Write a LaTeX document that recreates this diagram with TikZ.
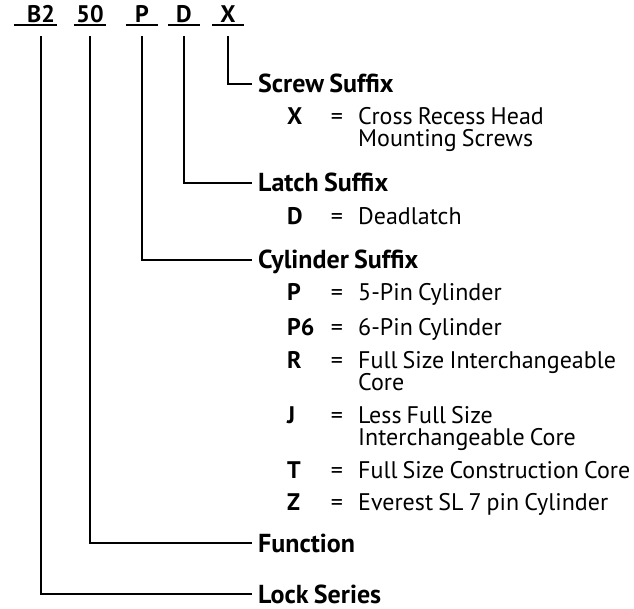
\documentclass[tikz,border=0pt]{standalone}
\usepackage{fontspec}
\setmainfont{PT Sans}[WordSpace=0.8]
\newcommand{\lblsize}{\fontsize{24}{22}\selectfont}
\newcommand{\headsize}{\fontsize{26}{24}\selectfont}

\tikzset{
  code/.style={font=\lblsize\bfseries,anchor=base,inner xsep=0pt,inner ysep=2pt,
    minimum width=31pt,text depth=0pt},
  head/.style={font=\headsize\bfseries,anchor=west,inner xsep=6pt,inner ysep=1pt,
    text height=18pt,text depth=0pt},
  key/.style={font=\lblsize\bfseries,anchor=base west,inner sep=0pt},
  eq/.style={font=\lblsize,anchor=base,inner sep=0pt},
  desc/.style={font=\lblsize,anchor=base west,inner sep=0pt},
  conn/.style={line width=1.6pt},
}

\begin{document}
\begin{tikzpicture}[x=1pt,y=-1pt]
  \useasboundingbox (0,0) rectangle (634,609);

  % Part number, one underlined group per field
  \node[code] (cB) at (41,23) {B2};
  \node[code] (cF) at (90,23) {50};
  \node[code] (cP) at (142,23) {P};
  \node[code] (cD) at (184,23) {D};
  \node[code] (cX) at (228,23) {X};
  \draw[line width=1.4pt] ([xshift=-11pt]cB.south west) -- (cB.south east);
  \foreach \c in {cF,cP,cD,cX}
    \draw[line width=1.4pt] (\c.south west) -- (\c.south east);

  % Field headings
  \node[head] (hScrew) at (252,84)  {Screw Suffix};
  \node[head] (hLatch) at (252,183) {Latch Suffix};
  \node[head] (hCyl)   at (252,260) {Cylinder Suffix};
  \node[head] (hFunc)  at (252,543) {Function};
  \node[head] (hLock)  at (252,594) {Lock Series};

  % Options under each heading
  \foreach \k/\txt/\y/\n in {
      X/Cross Recess Head/125/x,
      D/Deadlatch/225/d,
      P/5-Pin Cylinder/301/p,
      P6/6-Pin Cylinder/335/psix,
      R/Full Size Interchangeable/368/r,
      J/Less Full Size/423/j,
      T/Full Size Construction Core/478/t,
      Z/Everest SL 7 pin Cylinder/510/z}{
    \node[key]  (k\n) at (287,\y) {\k};
    \node[eq]   (e\n) at (337,\y) {=};
    \node[desc] (d\n) at (358,\y) {\txt};
  }
  % second lines of the longer options
  \node[desc] (dx2) at (358,147) {Mounting Screws};
  \node[desc] (dr2) at (358,390) {Core};
  \node[desc] (dj2) at (358,445) {Interchangeable Core};

  % Leaders from the part number to the headings
  \draw[conn] ([yshift=-11pt]cX.south) |- (hScrew.west);
  \draw[conn] ([yshift=-11pt]cD.south) |- (hLatch.west);
  \draw[conn] ([yshift=-11pt]cP.south) |- (hCyl.west);
  \draw[conn] ([yshift=-11pt]cF.south) |- (hFunc.west);
  \draw[conn] ([yshift=-11pt]cB.south) |- (hLock.west);
\end{tikzpicture}
\end{document}
